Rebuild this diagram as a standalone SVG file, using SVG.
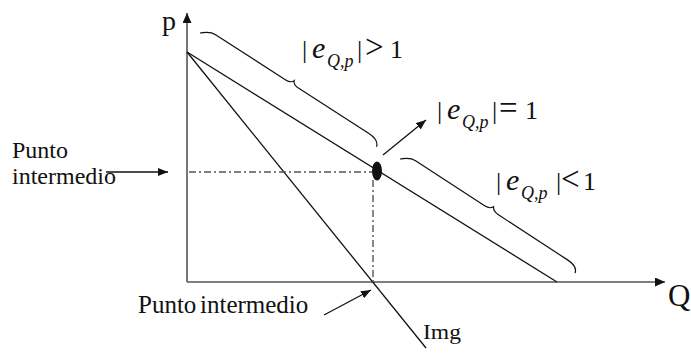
<svg xmlns="http://www.w3.org/2000/svg" width="691" height="353" viewBox="0 0 691 353">
<style>
.t{font-family:"Liberation Serif","Times New Roman",serif;fill:#111}
.ax{stroke:#555;stroke-width:1.6;fill:none}
.ln{stroke:#111;stroke-width:1.3;fill:none}
.dd{stroke:#555;stroke-width:1.4;fill:none;stroke-dasharray:7 3 2 3}
.br{stroke:#111;stroke-width:1.2;fill:none}
.it{font-style:italic}
.e{font-style:italic;font-size:30px}
.s{font-style:italic;font-size:18px}
.op{font-size:33px}
</style>
<defs>
<marker id="ah" markerWidth="10" markerHeight="8" refX="10" refY="4" orient="auto" markerUnits="userSpaceOnUse">
<path d="M0,0 L10,4 L0,8 Z" fill="#111"/>
</marker>
<marker id="axh" markerWidth="10" markerHeight="9" refX="10" refY="4.5" orient="auto" markerUnits="userSpaceOnUse">
<path d="M0,0 L10,4.5 L0,9 Z" fill="#111"/>
</marker>
</defs>
<g id="axes">
<line class="ax" x1="187" y1="282" x2="187" y2="13" marker-end="url(#axh)"/>
<line class="ax" x1="187" y1="282" x2="665" y2="282" marker-end="url(#axh)"/>
<text class="t" x="162" y="30" font-size="28">p</text>
<text class="t" x="668" y="306" font-size="31">Q</text>
</g>
<g id="connectors">
<line id="demand" class="ln" x1="187" y1="52" x2="557" y2="282"/>
<line id="img-line" class="ln" x1="187" y1="52" x2="426" y2="348"/>
<line class="dd" x1="189" y1="172" x2="373" y2="172"/>
<line class="dd" x1="373" y1="180" x2="373" y2="282"/>
<line class="ln" x1="383" y1="155" x2="426" y2="120" marker-end="url(#ah)"/>
<line class="ln" x1="106" y1="172" x2="168" y2="172" marker-end="url(#ah)"/>
<line class="ln" x1="324" y1="315" x2="371" y2="290" marker-end="url(#ah)"/>
</g>
<g id="brace-upper">
<path class="br" transform="translate(200,33) rotate(32.8)" d="M0,0 C4,-3 7,-7 14,-7 L97,-7 C101,-7 104,-8 105,-11 C106,-8 109,-7 113,-7 L196,-7 C204,-7 209,-4 210,0"/>
</g>
<g id="brace-lower">
<path class="br" transform="translate(400,159) rotate(33.1)" d="M0,0 C4,-3 7,-7 14,-7 L96,-7 C100,-7 103,-8 104.5,-11 C106,-8 109,-7 113,-7 L195,-7 C203,-7 208,-4 209,0"/>
</g>
<g id="midpoint">
<ellipse cx="377" cy="171" rx="5" ry="9.5" fill="#111"/>
</g>
<g id="label-gt">
<text class="t" font-size="26" y="58"><tspan x="302">|</tspan><tspan x="312" class="e">e</tspan><tspan x="327" y="67" class="s">Q,p</tspan><tspan x="357" y="58">|</tspan><tspan x="365" class="op">&gt;</tspan><tspan x="390">1</tspan></text>
</g>
<g id="label-eq">
<text class="t" font-size="26" y="119"><tspan x="437">|</tspan><tspan x="447" class="e">e</tspan><tspan x="462" y="128" class="s">Q,p</tspan><tspan x="492" y="119">|</tspan><tspan x="499" class="op">=</tspan><tspan x="525">1</tspan></text>
</g>
<g id="label-lt">
<text class="t" font-size="26" y="190"><tspan x="496">|</tspan><tspan x="506" class="e">e</tspan><tspan x="521" y="199" class="s">Q,p</tspan><tspan x="556" y="190">|</tspan><tspan x="561" class="op">&lt;</tspan><tspan x="583">1</tspan></text>
</g>
<g id="label-left">
<text class="t" x="12" y="158" font-size="24">Punto</text>
<text class="t" x="12" y="184" font-size="24">intermedio</text>
</g>
<g id="label-bottom">
<text class="t" x="138" y="313" font-size="25">Punto<tspan x="200">intermedio</tspan></text>
</g>
<g id="label-img">
<text class="t" x="423" y="339" font-size="21" textLength="38" lengthAdjust="spacingAndGlyphs">Img</text>
</g>
</svg>
